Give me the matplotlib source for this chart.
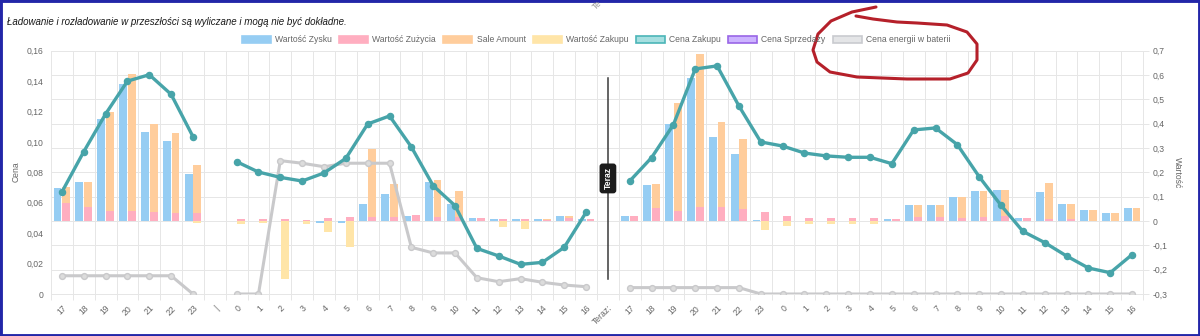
import numpy as np
import matplotlib
matplotlib.use('Agg')
import matplotlib.pyplot as plt
import matplotlib.transforms as mtransforms
from matplotlib.patches import Rectangle
from matplotlib.lines import Line2D
from matplotlib.ticker import FuncFormatter

plt.rcParams['font.family'] = ['Liberation Sans', 'DejaVu Sans']

# --- data -------------------------------------------------------------
labels = ['17', '18', '19', '20', '21', '22', '23', '|',
          '0', '1', '2', '3', '4', '5', '6', '7', '8', '9', '10', '11', '12',
          '13', '14', '15', '16', 'Teraz:',
          '17', '18', '19', '20', '21', '22', '23',
          '0', '1', '2', '3', '4', '5', '6', '7', '8', '9', '10', '11', '12',
          '13', '14', '15', '16']

# bars (right axis, "Wartość")
wartosc_zysku = [0.136, 0.159, 0.419, 0.562, 0.364, 0.327, 0.195, 0,
                 0, 0, 0, 0, -0.010, -0.010, 0.070, 0.110, 0.022, 0.160, 0.070,
                 0.011, 0.008, 0.007, 0.010, 0.021, 0.007, 0,
                 0.022, 0.148, 0.399, 0.586, 0.345, 0.274, 0.004,
                 0, 0, 0, 0, 0, 0.010, 0.067, 0.064, 0.100, 0.125, 0.129,
                 0.014, 0.119, 0.070, 0.044, 0.033, 0.052]
wartosc_zuzycia = [0.075, 0.056, 0.041, 0.041, 0.037, 0.034, 0.034, 0,
                   0.010, 0.008, 0.008, 0.006, 0.011, 0.016, 0.016, 0.016, 0.023,
                   0.016, 0.016, 0.011, 0.010, 0.007, 0.005, 0.012, 0.007, 0,
                   0.022, 0.052, 0.042, 0.058, 0.058, 0.049, 0.038,
                   0.019, 0.012, 0.012, 0.012, 0.012, 0.010, 0.015, 0.015, 0.013,
                   0.018, 0.022, 0.014, 0.009, 0.007, 0, 0, 0]
sale_amount = [0.066, 0.103, 0.407, 0.563, 0.362, 0.328, 0.196, 0,
               0, 0, 0, 0, 0, 0, 0.280, 0.135, 0, 0.151, 0.107,
               0, 0, 0, 0.003, 0.008, 0, 0,
               0, 0.100, 0.442, 0.627, 0.349, 0.287, 0,
               0, 0, 0, 0, 0, 0, 0.052, 0.049, 0.087, 0.107, 0.106,
               0, 0.148, 0.063, 0.044, 0.033, 0.052]
wartosc_zakupu = [0, 0, 0, 0, 0, 0, -0.007, 0,
                  -0.012, -0.010, -0.240, -0.012, -0.045, -0.108, 0, 0, 0, 0, 0,
                  0, -0.023, -0.033, 0, 0, 0, 0,
                  0, 0, 0, 0, 0, 0, -0.037,
                  -0.021, -0.012, -0.012, -0.012, -0.012, 0, 0, 0, 0, 0, 0,
                  0, 0, 0, 0, 0, 0]

# lines (left axis, "Cena")
nan = np.nan
cena_zakupu = [0.0671, 0.0936, 0.1184, 0.140, 0.1442, 0.1313, 0.1035, nan,
               0.087, 0.0802, 0.0767, 0.0743, 0.0796, 0.0892, 0.1118, 0.1171,
               0.0967, 0.0712, 0.0581, 0.030, 0.025, 0.0195, 0.0208, 0.0307,
               0.0537, nan,
               0.0743, 0.0897, 0.1114, 0.148, 0.150, 0.1236, 0.100,
               0.0973, 0.0927, 0.0908, 0.0899, 0.0899, 0.0857, 0.1079, 0.1092,
               0.0982, 0.0771, 0.0583, 0.0412, 0.0338, 0.025, 0.0171, 0.014,
               0.0259]
cena_baterii = [0.012, 0.012, 0.012, 0.012, 0.012, 0.012, 0, nan,
                0, 0, 0.0877, 0.086, 0.0837, 0.086, 0.086, 0.086, 0.0307,
                0.027, 0.027, 0.0107, 0.0081, 0.0101, 0.0077, 0.0059, 0.0048, nan,
                0.0042, 0.0042, 0.0042, 0.0042, 0.0042, 0.0042, 0,
                0, 0, 0, 0, 0, 0, 0, 0, 0, 0, 0, 0, 0, 0, 0, 0, 0]

now_index = labels.index('Teraz:')
title = 'Ładowanie i rozładowanie w przeszłości są wyliczane i mogą nie być dokładne.'

# --- colours ----------------------------------------------------------
blue = '#96cdf3'
pink = '#ffaec0'
orange = '#ffcd9c'
yellow = '#ffe5a8'
teal = '#47a4a9'
grey_line = '#c9c9cb'
grid_c = '#e6e6e6'
text_c = '#666666'

W, H = 1200, 336
fs = 6.2  # ~8.6 px

fig = plt.figure(figsize=(W / 100, H / 100), dpi=100)
px = mtransforms.Affine2D().scale(1 / W, -1 / H).translate(0, 1) + fig.transFigure

ax = fig.add_axes([51 / W, 1 - 294 / H, 1092 / W, 243.3 / H])
ax2 = ax.twinx()

x = np.arange(len(labels))
bw = 0.36
zysk = np.array(wartosc_zysku)
zuz = np.array(wartosc_zuzycia)
sale = np.array(sale_amount)
zak = np.array(wartosc_zakupu)

ax.bar(x - 0.2, zysk, bw, color=blue, zorder=2)
ax.bar(x + 0.2, zuz, bw, color=pink, zorder=2)
ax.bar(x + 0.2, sale, bw, bottom=zuz, color=orange, zorder=2)
ax.bar(x + 0.2, zak, bw, color=yellow, zorder=2)

ax.set_xlim(-0.5, len(labels) - 0.5)
ax.set_ylim(-0.3, 0.7)
ax.yaxis.tick_right()
ax.set_yticks(np.round(np.arange(-0.3, 0.71, 0.1), 1))


def fmt1(v, _):
    if abs(v) < 1e-9:
        return '0'
    return ('%.1f' % v).replace('.', ',')


def fmt2(v, _):
    if abs(v) < 1e-9:
        return '0'
    return ('%.2f' % v).replace('.', ',')


ax.yaxis.set_major_formatter(FuncFormatter(fmt1))
ax.set_xticks(x)
ax.set_xticklabels(labels, rotation=45, ha='right', rotation_mode='anchor')
ax.set_xticks(np.arange(-0.5, len(labels), 1), minor=True)
ax.tick_params(axis='x', which='major', length=0, pad=7, labelsize=fs, labelcolor=text_c)
ax.tick_params(axis='x', which='minor', length=4, color=grid_c, width=0.72)
ax.tick_params(axis='y', length=4, color=grid_c, width=0.72, pad=3,
               labelsize=fs, labelcolor=text_c)
ax.grid(axis='y', color=grid_c, lw=0.72, zorder=0)
ax.grid(axis='x', which='minor', color=grid_c, lw=0.72, zorder=0)
ax.set_axisbelow(True)
for s in ax.spines.values():
    s.set_color(grid_c)
    s.set_linewidth(0.72)

ax2.plot(x, cena_baterii, color=grey_line, lw=2.2, marker='o', ms=4.2,
         mfc='#dcdcdc', mec=grey_line, mew=1, zorder=3)
ax2.plot(x, cena_zakupu, color=teal, lw=2.4, marker='o', ms=4.4,
         mfc=teal, mec=teal, zorder=4)
ax2.set_ylim(0, 0.16)
ax2.set_yticks(np.round(np.arange(0, 0.161, 0.02), 2))
ax2.yaxis.set_major_formatter(FuncFormatter(fmt2))
ax2.yaxis.tick_left()
ax2.tick_params(axis='y', length=0, pad=5.5, labelsize=fs, labelcolor=text_c)
for s in ax2.spines.values():
    s.set_visible(False)

# "Teraz" marker
ax2.axvline(now_index, ymin=0.062, ymax=0.888, color='#3a3a3a', lw=1.1, zorder=5)
ax2.text(now_index, 0.475, 'Teraz', transform=ax2.get_xaxis_transform(),
         rotation=90, color='white', fontweight='bold', fontsize=fs,
         ha='center', va='center', zorder=6,
         bbox=dict(boxstyle='round,pad=0.45,rounding_size=0.35', fc='#1c1c1c', ec='none'))

# axis titles
fig.text(16.5 / W, 1 - 172 / H, 'Cena', rotation=90, ha='center', va='center',
         fontsize=fs, color=text_c)
fig.text(1177 / W, 1 - 173 / H, 'Wartość', rotation=270, ha='center', va='center',
         fontsize=fs, color=text_c)

# title
fig.text(7 / W, 1 - 22 / H, title, style='italic', fontsize=7.0, color='#1a1a1a',
         va='center', ha='left')

# fragment of a label from the chart above
fig.text(591 / W, 1 - 11 / H, 'Te', rotation=45, fontsize=fs, color='#999999',
         ha='left', va='bottom')

# legend, laid out like the web chart
legend_items = [
    ('Wartość Zysku', blue, blue),
    ('Wartość Zużycia', pink, pink),
    ('Sale Amount', orange, orange),
    ('Wartość Zakupu', yellow, yellow),
    ('Cena Zakupu', '#a6dfe0', '#4bb5b8'),
    ('Cena Sprzedaży', '#ccb3ff', '#9966e6'),
    ('Cena energii w baterii', '#e4e5e7', '#c9cbcf'),
]
renderer = fig.canvas.get_renderer()
box_w, box_h, gap_in, gap_out = 29, 7.5, 4.5, 7
widths = []
for lab, _, _ in legend_items:
    t = fig.text(0, 0, lab, fontsize=fs)
    widths.append(t.get_window_extent(renderer).width)
    t.remove()
total = sum(box_w + gap_in + w for w in widths) + gap_out * (len(widths) - 1)
cx = 596 - total / 2
ly = 39.7
for (lab, fc, ec), w in zip(legend_items, widths):
    fig.add_artist(Rectangle((cx, ly - box_h / 2), box_w, box_h, transform=px,
                             fc=fc, ec=ec, lw=1.2))
    fig.text((cx + box_w + gap_in) / W, 1 - ly / H, lab, fontsize=fs, color=text_c,
             ha='left', va='center')
    cx += box_w + gap_in + w + gap_out

# hand-drawn red loop around the last legend item
loop = [(876, 7), (852, 12), (831, 21), (818, 34), (813, 50), (817, 62), (830, 72),
        (857, 77), (907, 79), (950, 79), (968, 73), (977, 60), (977, 44), (967, 32),
        (947, 25), (917, 23), (897, 22), (873, 19), (856, 16)]
lx, lyy = zip(*loop)
fig.add_artist(Line2D(lx, lyy, transform=px, color='#b5202a', lw=2.2,
                      solid_capstyle='round', solid_joinstyle='round'))

# blue frame of the screenshot
fig.add_artist(Rectangle((0, 0), 1, 1, transform=fig.transFigure, fill=False,
                         ec='#2326a8', lw=3.5))

fig.savefig('out.png', dpi=100, facecolor='white')
